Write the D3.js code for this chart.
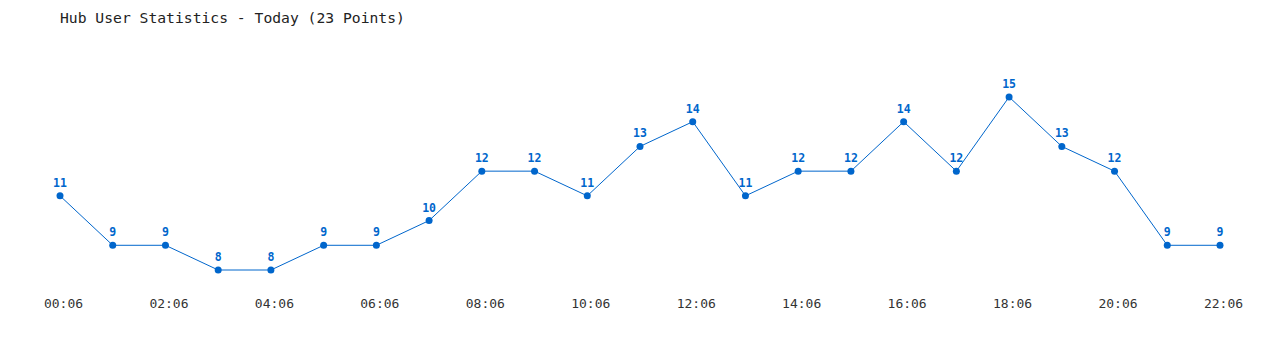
<!DOCTYPE html>
<html>
<head>
<meta charset="utf-8">
<script src="https://cdn.jsdelivr.net/npm/d3@7"></script>
<style>
  body { margin: 0; background: #fff; }
  text { font-family: "DejaVu Sans Mono", monospace; }
</style>
</head>
<body>
<div id="chart"></div>
<script>
// chart data
const title = "Hub User Statistics - Today (23 Points)";
const hours = d3.range(0, 23); // one point per hour starting 00:06
const users = [11, 9, 9, 8, 8, 9, 9, 10, 12, 12, 11, 13, 14, 11, 12, 12, 14, 12, 15, 13, 12, 9, 9];
const tickLabels = ["00:06", "02:06", "04:06", "06:06", "08:06", "10:06",
                    "12:06", "14:06", "16:06", "18:06", "20:06", "22:06"];

const width = 1280, height = 350;
const blue = "#0066cc";

const svg = d3.select("#chart").append("svg")
    .attr("width", width)
    .attr("height", height);

// scales
const x = d3.scaleLinear().domain([0, 22]).range([60, 1220]);
const y = d3.scaleLinear().domain([8, 15]).range([270, 97]);

// title
svg.append("text")
    .attr("x", 60)
    .attr("y", 23)
    .attr("font-size", 14.7)
    .attr("fill", "#222")
    .text(title);

// x axis labels (no axis line), drawn slightly right of the point
svg.selectAll(".tick-label")
    .data(tickLabels)
    .join("text")
    .attr("class", "tick-label")
    .attr("x", (d, i) => x(i * 2))
    .attr("dx", 3.5)
    .attr("y", 308)
    .attr("text-anchor", "middle")
    .attr("font-size", 13)
    .attr("fill", "#333")
    .text(d => d);

const line = d3.line()
    .x((d, i) => x(hours[i]))
    .y(d => y(d));

svg.append("path")
    .datum(users)
    .attr("d", line)
    .attr("fill", "none")
    .attr("stroke", blue)
    .attr("stroke-width", 1);

svg.selectAll(".dot")
    .data(users)
    .join("circle")
    .attr("class", "dot")
    .attr("cx", (d, i) => x(hours[i]))
    .attr("cy", d => y(d))
    .attr("r", 3.5)
    .attr("fill", blue);

svg.selectAll(".val")
    .data(users)
    .join("text")
    .attr("class", "val")
    .attr("x", (d, i) => x(hours[i]))
    .attr("y", d => y(d) - 9)
    .attr("text-anchor", "middle")
    .attr("font-family", "Verdana, 'DejaVu Sans', sans-serif")
    .attr("font-weight", "bold")
    .attr("font-size", 11.5)
    .attr("fill", blue)
    .text(d => d);
</script>
</body>
</html>
